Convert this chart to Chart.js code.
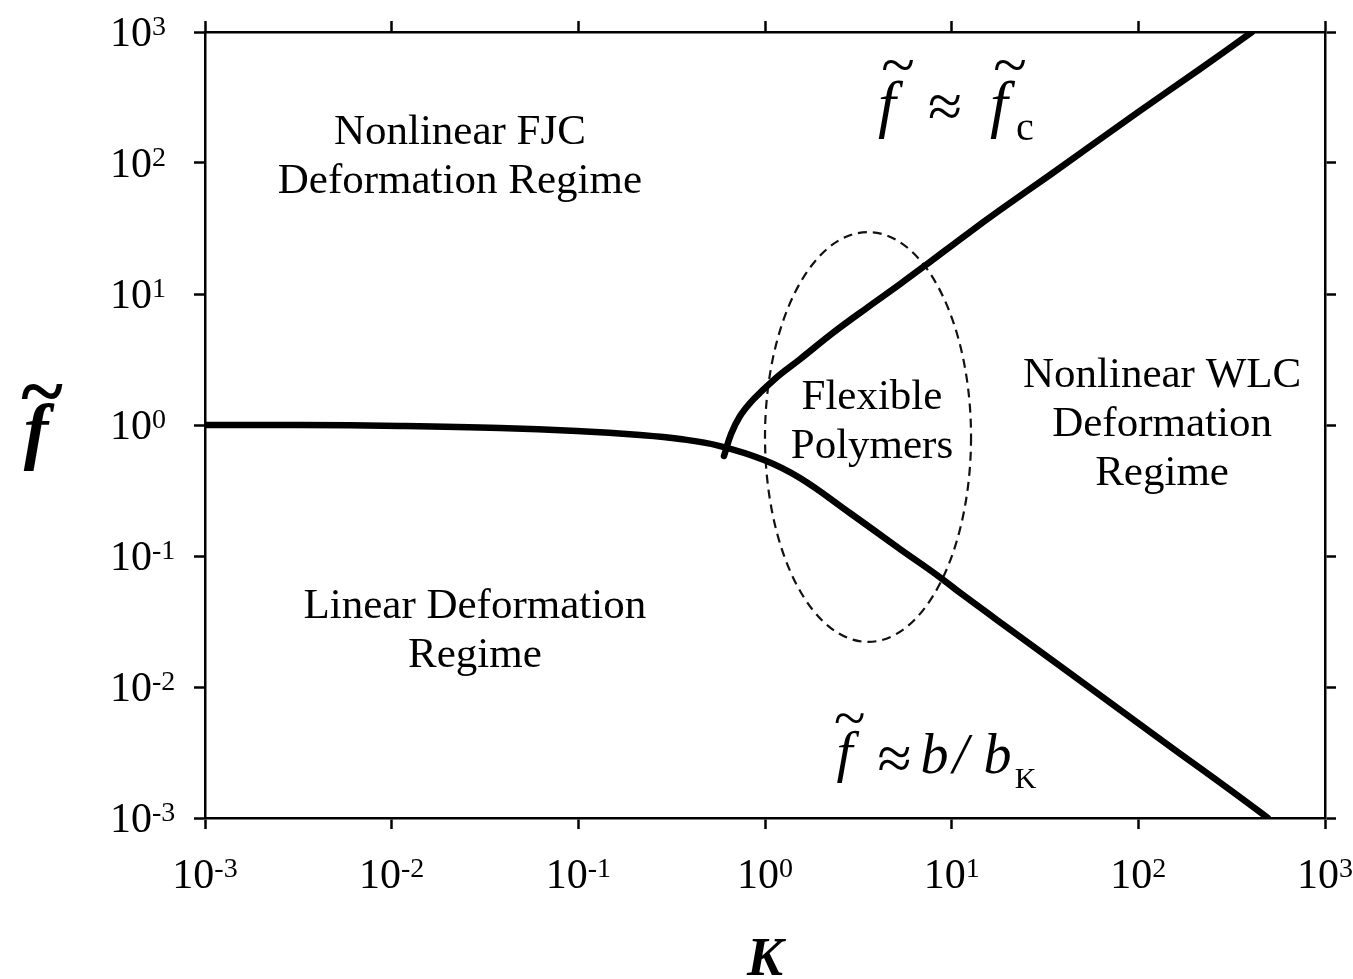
<!DOCTYPE html>
<html>
<head>
<meta charset="utf-8">
<script src="https://cdn.jsdelivr.net/npm/chart.js@4.4.1/dist/chart.umd.min.js"></script>
<style>
  html, body { margin: 0; padding: 0; background: #fff; }
  #wrap { width: 1353px; height: 979px; }
</style>
</head>
<body>
<div id="wrap"><canvas id="myChart" width="1353" height="979"></canvas></div>
<script>
"use strict";
// graduations des deux axes (puissances de 10)
const tickExponents = [-3, -2, -1, 0, 1, 2, 3];

// courbe du bas : regime lineaire puis f ~ b/bK
const lowerK = [0.001, 0.00323, 0.0111, 0.038, 0.098, 0.214, 0.351, 0.574, 0.988, 1.54, 2.85, 5.29, 8.34, 11.5, 21.3, 39.5, 90.2, 167, 310, 495];
const lowerF = [1.0, 1.0, 0.983, 0.949, 0.90, 0.839, 0.782, 0.691, 0.541, 0.394, 0.213, 0.113, 0.0716, 0.0504, 0.0265, 0.01396, 0.0059, 0.0031, 0.00164, 0.001];

// courbe du haut : f ~ fc
const upperK = [0.603, 0.658, 0.735, 0.831, 0.964, 1.20, 1.54, 2.31, 3.52, 5.29, 7.38, 12.1, 18.2, 33.6, 98.4, 214, 406];
const upperF = [0.58, 0.854, 1.17, 1.47, 1.82, 2.42, 3.18, 5.05, 7.85, 11.9, 16.9, 28.7, 43.8, 81, 241, 522, 1000];

// zone "Flexible Polymers" (ellipse) : Kmin, Kmax, fmin, fmax
const flexibleZone = [1.0, 12.7, 0.0221, 29.7];

// textes des regimes, places en coordonnees (K, f)
const regionK = [0.0232, 0.0279, 3.74, 134];
const regionF = [110, 0.0267, 1.045, 1.01];
const regionText = [
  ["Nonlinear FJC", "Deformation Regime"],
  ["Linear Deformation", "Regime"],
  ["Flexible", "Polymers"],
  ["Nonlinear WLC", "Deformation", "Regime"]
];

// ancres des deux formules
const eqK = [4.50, 2.67];
const eqF = [195, 0.00228];

const serif = "'Liberation Serif', 'Times New Roman', serif";

const toXY = (ks, fs) => ks.map((k, i) => ({ x: k, y: fs[i] }));

const axis = (id, pos, size) => ({
  type: "logarithmic",
  axis: id,
  position: pos,
  min: 0.001,
  max: 1000,
  afterBuildTicks: (s) => { s.ticks = tickExponents.map(e => ({ value: Math.pow(10, e) })); },
  afterFit: (s) => { if (s.isHorizontal()) s.height = size; else s.width = size; },
  ticks: { display: false },
  grid: { drawOnChartArea: false, drawTicks: true, tickLength: 11, tickWidth: 2.5, tickColor: "#000" },
  border: { display: true, color: "#000", width: 2.5 }
});

// ecrit "10" avec l'exposant
const drawPower = (ctx, exp, x, y, align) => {
  const base = "10", sup = String(exp);
  ctx.font = `42px ${serif}`;
  const wb = ctx.measureText(base).width;
  ctx.font = `28px ${serif}`;
  const ws = ctx.measureText(sup).width;
  const left = align === "center" ? x - (wb + ws) / 2 : x;
  ctx.textAlign = "left";
  ctx.textBaseline = "alphabetic";
  ctx.font = `42px ${serif}`;
  ctx.fillText(base, left, y);
  ctx.font = `28px ${serif}`;
  ctx.fillText(sup, left + wb, y - 11);
};

const put = (ctx, txt, x, y, font) => {
  ctx.font = font;
  ctx.textAlign = "center";
  ctx.textBaseline = "alphabetic";
  ctx.fillText(txt, x, y);
};

const decorPlugin = {
  id: "decor",
  beforeDatasetsDraw(chart) {
    const ctx = chart.ctx, xs = chart.scales.x, ys = chart.scales.y;
    const x1 = xs.getPixelForValue(flexibleZone[0]), x2 = xs.getPixelForValue(flexibleZone[1]);
    const y1 = ys.getPixelForValue(flexibleZone[3]), y2 = ys.getPixelForValue(flexibleZone[2]);
    ctx.save();
    ctx.strokeStyle = "#111";
    ctx.lineWidth = 2.2;
    ctx.setLineDash([9, 6]);
    ctx.beginPath();
    ctx.ellipse((x1 + x2) / 2, (y1 + y2) / 2, (x2 - x1) / 2, (y2 - y1) / 2, 0, 0, Math.PI * 2);
    ctx.stroke();
    ctx.restore();
  },
  afterDraw(chart) {
    const ctx = chart.ctx, xs = chart.scales.x, ys = chart.scales.y;
    ctx.save();
    ctx.fillStyle = "#000";
    // etiquettes des axes
    tickExponents.forEach(e => {
      drawPower(ctx, e, xs.getPixelForValue(Math.pow(10, e)), xs.top + 70, "center");
      drawPower(ctx, e, ys.right - 95, ys.getPixelForValue(Math.pow(10, e)) + 14, "left");
    });
    // titres des axes
    put(ctx, "K", (xs.left + xs.right) / 2, 975, `bold italic 54px ${serif}`);
    put(ctx, "f", 36, 455, `bold italic 74px ${serif}`);
    put(ctx, "~", 42, 418, `bold 80px ${serif}`);
    // regimes
    regionText.forEach((lines, i) => {
      const cx = xs.getPixelForValue(regionK[i]);
      const cy = ys.getPixelForValue(regionF[i]);
      ctx.font = `43px ${serif}`;
      ctx.textAlign = "center";
      ctx.textBaseline = "middle";
      lines.forEach((t, j) => {
        ctx.fillText(t, cx, cy + (j - (lines.length - 1) / 2) * 49);
      });
    });
    // f ~ fc
    let ax = xs.getPixelForValue(eqK[0]), ay = ys.getPixelForValue(eqF[0]);
    put(ctx, "f", ax, ay, `italic 64px ${serif}`);
    put(ctx, "~", ax + 11, ay - 40, `62px ${serif}`);
    put(ctx, "\u2248", ax + 58, ay + 2, `62px ${serif}`);
    put(ctx, "f", ax + 112, ay, `italic 64px ${serif}`);
    put(ctx, "~", ax + 123, ay - 40, `62px ${serif}`);
    put(ctx, "c", ax + 138, ay + 15, `40px ${serif}`);
    // f ~ b / bK
    ax = xs.getPixelForValue(eqK[1]); ay = ys.getPixelForValue(eqF[1]);
    put(ctx, "f", ax, ay, `italic 58px ${serif}`);
    put(ctx, "~", ax + 5, ay - 34, `58px ${serif}`);
    put(ctx, "\u2248", ax + 50, ay + 8, `62px ${serif}`);
    put(ctx, "b", ax + 90, ay + 2, `italic 56px ${serif}`);
    put(ctx, "/", ax + 116, ay + 2, `italic 56px ${serif}`);
    put(ctx, "b", ax + 153, ay + 2, `italic 56px ${serif}`);
    put(ctx, "K", ax + 181, ay + 17, `30px ${serif}`);
    ctx.restore();
  }
};

const lineStyle = {
  borderColor: "#000",
  borderWidth: 6.5,
  pointRadius: 0,
  fill: false,
  tension: 0.4,
  borderCapStyle: "round",
  borderJoinStyle: "round"
};

const ctx = document.getElementById("myChart").getContext("2d");
const myChart = new Chart(ctx, {
  type: "line",
  data: {
    datasets: [
      Object.assign({ label: "f ~ b/bK", data: toXY(lowerK, lowerF) }, lineStyle),
      Object.assign({ label: "f ~ fc", data: toXY(upperK, upperF) }, lineStyle)
    ]
  },
  options: {
    responsive: false,
    animation: false,
    devicePixelRatio: 1,
    layout: { padding: 0 },
    plugins: { legend: { display: false }, tooltip: { enabled: false } },
    scales: {
      x: axis("x", "bottom", 161),
      y: axis("y", "left", 205),
      x2: axis("x", "top", 32),
      y2: axis("y", "right", 28)
    }
  },
  plugins: [decorPlugin]
});
</script>
</body>
</html>
